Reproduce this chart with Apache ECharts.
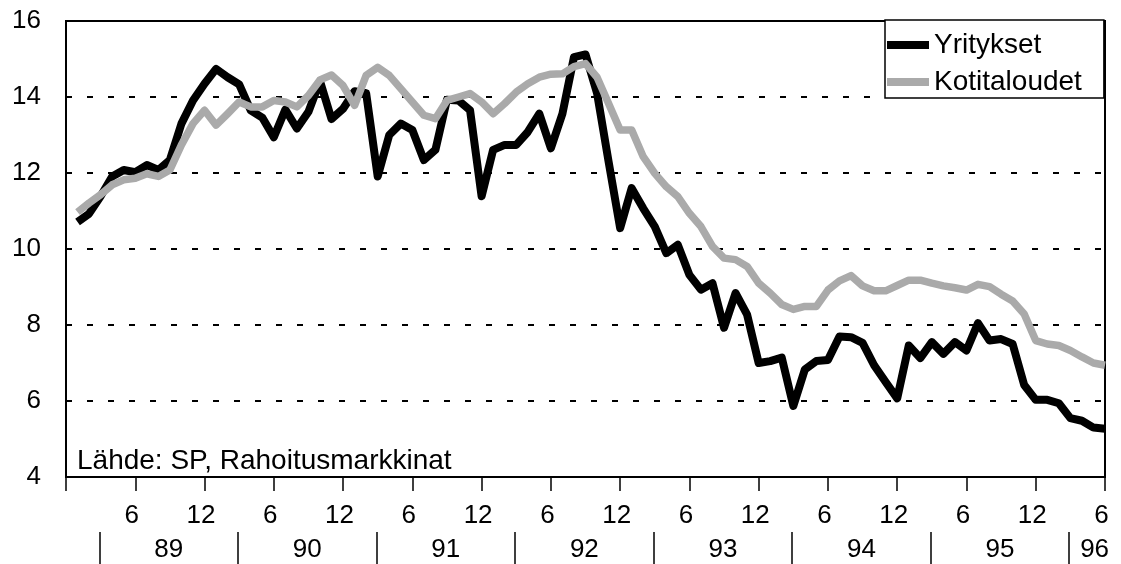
<!DOCTYPE html>
<html>
<head>
<meta charset="utf-8">
<script src="https://cdn.jsdelivr.net/npm/echarts@6/dist/echarts.min.js"></script>
<style>
  html, body { margin: 0; padding: 0; background: #fff; }
  #chart { width: 1121px; height: 564px; }
</style>
</head>
<body>
<div id="chart"></div>
<script>
// kuukaudet 1989/1 .. 1996/6 -> x = 1..90
var yritykset = [
  10.71, 10.93, 11.39, 11.91, 12.08, 12.02, 12.21, 12.08, 12.34, 13.30, 13.91, 14.35,
  14.74, 14.52, 14.33, 13.65, 13.46, 12.94, 13.67, 13.17, 13.61, 14.42, 13.42, 13.69,
  14.15, 14.10, 11.91, 13.00, 13.30, 13.13, 12.34, 12.61, 13.93, 13.91, 13.65, 11.39,
  12.61, 12.74, 12.74, 13.08, 13.56, 12.65, 13.56, 15.05, 15.12, 14.10, 12.30, 10.55,
  11.60, 11.07, 10.59, 9.89, 10.11, 9.32, 8.93, 9.10, 7.93, 8.84, 8.27, 7.00,
  7.05, 7.14, 5.87, 6.83, 7.05, 7.08, 7.70, 7.68, 7.53, 6.94, 6.50, 6.07,
  7.46, 7.13, 7.55, 7.24, 7.55, 7.33, 8.05, 7.59, 7.63, 7.50, 6.42, 6.03,
  6.03, 5.94, 5.55, 5.48, 5.30, 5.27
];
var kotitaloudet = [
  10.97, 11.21, 11.43, 11.69, 11.82, 11.86, 11.98, 11.91, 12.08, 12.74, 13.30, 13.65,
  13.26, 13.56, 13.87, 13.74, 13.74, 13.91, 13.87, 13.74, 14.04, 14.45, 14.58, 14.30,
  13.78, 14.57, 14.78, 14.57, 14.22, 13.87, 13.52, 13.43, 13.91, 14.00, 14.09, 13.87,
  13.56, 13.83, 14.13, 14.35, 14.52, 14.60, 14.61, 14.80, 14.88, 14.52, 13.83, 13.13,
  13.13, 12.43, 11.99, 11.64, 11.38, 10.94, 10.59, 10.07, 9.76, 9.72, 9.54, 9.10,
  8.84, 8.54, 8.41, 8.49, 8.49, 8.92, 9.16, 9.30, 9.03, 8.90, 8.90, 9.04,
  9.18, 9.18, 9.10, 9.03, 8.98, 8.92, 9.07, 9.01, 8.81, 8.63, 8.29, 7.59,
  7.50, 7.46, 7.33, 7.16, 7.00, 6.94
];
var seriesNames = ['Yritykset', 'Kotitaloudet'];
var yearLabels = ['89', '90', '91', '92', '93', '94', '95', '96'];
var yearSeparators = [2.9, 14.9, 26.9, 38.9, 50.9, 62.9, 74.9, 86.9];
var yearLabelPos = [8.9, 20.9, 32.9, 44.9, 56.9, 68.9, 80.9, 89.1];
var sourceText = 'Lähde: SP, Rahoitusmarkkinat';

function toPoints(arr) {
  return arr.map(function (v, i) { return [i + 1, v]; });
}

var font = 'Liberation Sans, Arial, sans-serif';
var myChart = echarts.init(document.getElementById('chart'));
myChart.setOption({
  animation: false,
  backgroundColor: '#fff',
  title: {
    text: sourceText,
    left: 77,
    top: 447,
    padding: 0,
    textStyle: { fontFamily: font, fontSize: 28, fontWeight: 'normal', color: '#000' }
  },
  legend: {
    data: seriesNames,
    orient: 'vertical',
    left: 885,
    top: 20,
    padding: [11, 22, 2, 2],
    itemGap: 9,
    itemWidth: 42,
    itemHeight: 8,
    icon: 'rect',
    backgroundColor: '#fff',
    borderColor: '#000',
    borderWidth: 1.5,
    textStyle: { fontFamily: font, fontSize: 28, color: '#000' }
  },
  grid: {
    left: 66, right: 16, top: 21, bottom: 87,
    show: true, borderColor: '#000', borderWidth: 2
  },
  xAxis: [
    {
      type: 'value',
      min: 0, max: 90, interval: 6,
      axisLine: { show: true, lineStyle: { color: '#000', width: 2 } },
      axisTick: { show: true, length: 14, lineStyle: { color: '#000', width: 1.5 } },
      splitLine: { show: false },
      axisLabel: {
        margin: 26,
        padding: [0, 7, 0, 0],
        fontFamily: font, fontSize: 26, color: '#000',
        showMinLabel: true, showMaxLabel: true,
        formatter: function (v) {
          if (v === 0) return '';
          return v % 12 === 0 ? '12' : '6';
        }
      }
    },
    {
      type: 'value',
      position: 'bottom',
      offset: 55,
      min: 0, max: 90,
      axisLine: { show: false },
      axisTick: {
        show: true, length: 32, customValues: yearSeparators,
        lineStyle: { color: '#000', width: 1.5 }
      },
      splitLine: { show: false },
      axisLabel: {
        margin: 5,
        customValues: yearLabelPos,
        fontFamily: font, fontSize: 26, color: '#000',
        formatter: function (v) { return yearLabels[Math.floor(v / 12)]; }
      }
    }
  ],
  yAxis: {
    type: 'value',
    min: 4, max: 16, interval: 2,
    axisLine: { show: true, lineStyle: { color: '#000', width: 2 } },
    axisTick: { show: false },
    splitLine: { show: true, lineStyle: { color: '#000', width: 2, type: [6, 15] } },
    axisLabel: {
      margin: 25, padding: [6, 0, 0, 0],
      fontFamily: font, fontSize: 26, color: '#000'
    }
  },
  series: [
    {
      name: 'Yritykset', type: 'line', xAxisIndex: 0,
      data: toPoints(yritykset),
      symbol: 'none', color: '#000', z: 3,
      lineStyle: { color: '#000', width: 8, join: 'round' }
    },
    {
      name: 'Kotitaloudet', type: 'line', xAxisIndex: 0,
      data: toPoints(kotitaloudet),
      symbol: 'none', color: '#aaaaaa', z: 4,
      lineStyle: { color: '#aaaaaa', width: 7.5, join: 'round' }
    }
  ]
});
</script>
</body>
</html>
